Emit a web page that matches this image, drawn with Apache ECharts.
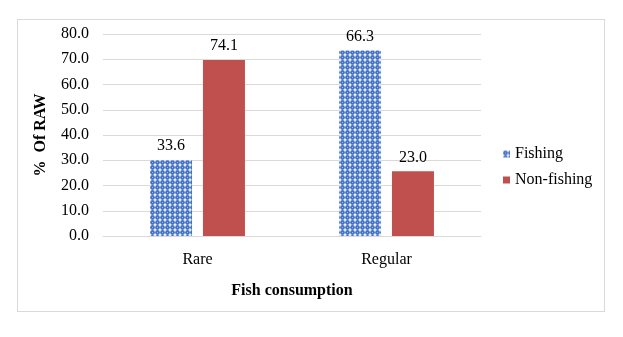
<!DOCTYPE html>
<html>
<head>
<meta charset="utf-8">
<script src="https://cdn.jsdelivr.net/npm/echarts@6/dist/echarts.min.js"></script>
<style>
  html, body { margin: 0; padding: 0; background: #fff; }
  #frame {
    position: absolute; left: 17px; top: 19px; width: 588px; height: 293px;
    border: 1px solid #d9d9d9; box-sizing: border-box;
  }
  #chart { position: absolute; left: 0; top: 0; width: 623px; height: 337px; }
</style>
</head>
<body>
<div id="frame"></div>
<div id="chart"></div>
<script>
// data
const categories = ['Rare', 'Regular']
const fishing = [30.0, 73.5]
const nonFishing = [69.7, 25.6]
const fishingLabels = ['33.6', '66.3']
const nonFishingLabels = ['74.1', '23.0']

// dotted blue fill for the Fishing bars
const makeDots = () => {
  const c = document.createElement('canvas')
  c.width = 5
  c.height = 5
  const ctx = c.getContext('2d')
  ctx.fillStyle = '#ffffff'
  ctx.fillRect(0, 0, 5, 5)
  ctx.fillStyle = '#4472c4'
  ctx.beginPath()
  ctx.arc(2.5, 2.5, 2.4, 0, Math.PI * 2)
  ctx.fill()
  ctx.fillStyle = '#9db7e3'
  ctx.fillRect(2, 2, 1, 1)
  return c
}
const dots = { image: makeDots(), repeat: 'repeat' }

const font = 'Liberation Serif'
const chart = echarts.init(document.getElementById('chart'))

chart.setOption({
  animation: false,
  textStyle: { fontFamily: font },
  grid: { left: 103, right: 142, top: 34, bottom: 101 },
  legend: {
    orient: 'vertical',
    left: 498,
    top: 141,
    icon: 'rect',
    itemWidth: 7,
    itemHeight: 7,
    itemGap: 10,
    textStyle: { fontFamily: font, fontSize: 16, color: '#000' },
    data: ['Fishing', 'Non-fishing']
  },
  xAxis: {
    type: 'category',
    data: categories,
    name: 'Fish consumption',
    nameLocation: 'middle',
    nameGap: 47,
    nameTextStyle: { fontFamily: font, fontSize: 16, fontWeight: 'bold', color: '#000' },
    axisLine: { lineStyle: { color: '#d9d9d9' } },
    axisTick: { show: false },
    axisLabel: { fontFamily: font, fontSize: 16, color: '#000', margin: 16 }
  },
  yAxis: {
    type: 'value',
    min: 0,
    max: 80,
    interval: 10,
    name: '%  Of RAW',
    nameLocation: 'middle',
    nameGap: 54,
    nameTextStyle: { fontFamily: font, fontSize: 16, fontWeight: 'bold', color: '#000' },
    axisLine: { show: false },
    axisTick: { show: false },
    axisLabel: {
      fontFamily: font, fontSize: 16, color: '#000', margin: 14,
      formatter: (v) => v.toFixed(1)
    },
    splitLine: { lineStyle: { color: '#d9d9d9' } }
  },
  series: [
    {
      name: 'Fishing',
      type: 'bar',
      data: fishing,
      barWidth: 42,
      barGap: '26%',
      itemStyle: { color: dots },
      label: {
        show: true, position: 'top', distance: 6,
        fontFamily: font, fontSize: 16, color: '#000',
        formatter: (p) => fishingLabels[p.dataIndex]
      }
    },
    {
      name: 'Non-fishing',
      type: 'bar',
      data: nonFishing,
      barWidth: 42,
      itemStyle: { color: '#c0504d' },
      label: {
        show: true, position: 'top', distance: 6,
        fontFamily: font, fontSize: 16, color: '#000',
        formatter: (p) => nonFishingLabels[p.dataIndex]
      }
    }
  ]
})
</script>
</body>
</html>
